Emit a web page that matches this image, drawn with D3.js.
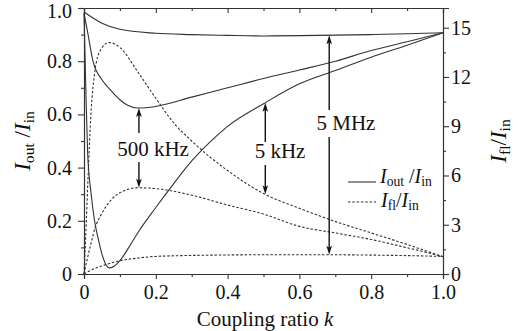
<!DOCTYPE html>
<html lang="en">
<head>
<meta charset="UTF-8">
<title>Coupling ratio chart</title>
<script src="https://d3js.org/d3.v7.min.js"></script>
<style>
  body { margin: 0; background: #fff; }
  svg text { font-family: "Liberation Serif", "DejaVu Serif", serif; fill: #111; }
  .axis path, .axis line { stroke: #333; stroke-width: 1.1; }
  .axis text { font-size: 20px; }
</style>
</head>
<body>
<div id="chart"></div>
<script>
// solid curves: I_out / I_in (left axis)
const k5MHzOut = [0, 0.05, 0.1, 0.2, 0.3, 0.4, 0.5, 0.6, 0.7, 0.8, 0.9, 1];
const out5MHz = [0.985, 0.943, 0.92, 0.905, 0.9, 0.897, 0.895, 0.896, 0.898, 0.9, 0.903, 0.907];

const k500kOut = [0, 0.01, 0.025, 0.05, 0.075, 0.1, 0.12, 0.15, 0.2, 0.3, 0.4, 0.5, 0.6, 0.7, 0.8, 0.9, 1];
const out500k = [0.98, 0.91, 0.8, 0.73, 0.69, 0.655, 0.635, 0.624, 0.63, 0.665, 0.7, 0.735, 0.767, 0.8, 0.84, 0.873, 0.907];

const k5kOut = [0, 0.005, 0.01, 0.02, 0.03, 0.04, 0.05, 0.06, 0.072, 0.085, 0.1, 0.125, 0.15, 0.2, 0.25, 0.3, 0.35, 0.4, 0.5, 0.6, 0.7, 0.8, 0.9, 1];
const out5k = [0.98, 0.7, 0.46, 0.3, 0.195, 0.13, 0.075, 0.038, 0.023, 0.03, 0.05, 0.1, 0.155, 0.25, 0.34, 0.425, 0.495, 0.555, 0.64, 0.715, 0.765, 0.815, 0.86, 0.907];

// dashed curves: I_fl / I_in (right axis)
const k5kFl = [0, 0.005, 0.01, 0.02, 0.03, 0.045, 0.07, 0.1, 0.15, 0.2, 0.25, 0.3, 0.4, 0.5, 0.6, 0.7, 0.8, 0.9, 1];
const fl5k = [0, 2.4, 5.2, 10.0, 12.3, 13.6, 14.1, 13.8, 12.3, 10.7, 9.2, 8.1, 6.3, 4.9, 4.0, 3.2, 2.5, 1.8, 1.05];

const k500kFl = [0, 0.01, 0.02, 0.03, 0.05, 0.075, 0.1, 0.15, 0.2, 0.3, 0.4, 0.5, 0.6, 0.7, 0.8, 0.9, 1];
const fl500k = [0, 1.0, 1.9, 2.75, 3.7, 4.5, 4.95, 5.25, 5.2, 4.8, 4.2, 3.65, 2.9, 2.5, 2.1, 1.6, 1.07];

const k5MHzFl = [0, 0.02, 0.05, 0.1, 0.15, 0.2, 0.3, 0.5, 0.7, 0.8, 0.9, 1];
const fl5MHz = [0, 0.24, 0.49, 0.81, 0.97, 1.07, 1.13, 1.17, 1.17, 1.15, 1.12, 1.07];

// ticks
const xTicks = [0, 0.2, 0.4, 0.6, 0.8, 1.0];
const xMinor = [0.1, 0.3, 0.5, 0.7, 0.9];
const yLTicks = [0, 0.2, 0.4, 0.6, 0.8, 1.0];
const yLMinor = [0.1, 0.3, 0.5, 0.7, 0.9];
const yRTicks = [0, 3, 6, 9, 12, 15];
const yRMinor = [1.5, 4.5, 7.5, 10.5, 13.5];

// annotations: label, k of arrow, text position
const notes = [
  { label: "500 kHz", k: 0.153, kOut: k500kOut, out: out500k, kFl: k500kFl, fl: fl500k, tx: 153, ty: 156, up: 133, down: 162 },
  { label: "5 kHz", k: 0.505, kOut: k5kOut, out: out5k, kFl: k5kFl, fl: fl5k, tx: 280, ty: 158, up: 142, down: 165 },
  { label: "5 MHz", k: 0.683, kOut: k5MHzOut, out: out5MHz, kFl: k5MHzFl, fl: fl5MHz, tx: 346, ty: 130, up: 110, down: 137 }
];

const width = 521, height = 331;
const mLeft = 84, mRight = 443, mTop = 8, mBottom = 274;

const svg = d3.select("#chart").append("svg")
  .attr("width", width)
  .attr("height", height);

const x = d3.scaleLinear().domain([0, 1]).range([mLeft, mRight]);
const yL = d3.scaleLinear().domain([0, 1]).range([mBottom, mTop]);
const yR = d3.scaleLinear().domain([0, 16.2]).range([mBottom, mTop]);

const fmt = d => d === 0 ? "0" : d3.format(".1f")(d);

// bottom axis
svg.append("g").attr("class", "axis").attr("transform", `translate(0,${mBottom})`)
  .call(d3.axisBottom(x).tickValues(xTicks).tickFormat(fmt).tickSize(5).tickPadding(6));
svg.append("g").attr("class", "axis").attr("transform", `translate(0,${mBottom})`)
  .call(d3.axisBottom(x).tickValues(xMinor).tickFormat("").tickSize(3));
// top axis (ticks inward)
svg.append("g").attr("class", "axis").attr("transform", `translate(0,${mTop})`)
  .call(d3.axisTop(x).tickValues(xTicks).tickFormat("").tickSize(-5));
svg.append("g").attr("class", "axis").attr("transform", `translate(0,${mTop})`)
  .call(d3.axisTop(x).tickValues(xMinor).tickFormat("").tickSize(-3));
// left axis
const leftAxis = svg.append("g").attr("class", "axis").attr("transform", `translate(${mLeft},0)`)
  .call(d3.axisLeft(yL).tickValues(yLTicks).tickFormat(fmt).tickSize(6).tickPadding(6));
svg.append("g").attr("class", "axis").attr("transform", `translate(${mLeft},0)`)
  .call(d3.axisLeft(yL).tickValues(yLMinor).tickFormat("").tickSize(3));
// right axis
svg.append("g").attr("class", "axis").attr("transform", `translate(${mRight},0)`)
  .call(d3.axisRight(yR).tickValues(yRTicks).tickFormat(d3.format("d")).tickSize(6).tickPadding(2));
svg.append("g").attr("class", "axis").attr("transform", `translate(${mRight},0)`)
  .call(d3.axisRight(yR).tickValues(yRMinor).tickFormat("").tickSize(3));
svg.selectAll(".axis path.domain").attr("stroke-width", 1.2);
svg.selectAll(".axis text").attr("font-family", null).attr("font-size", null);
// top label sits a little below its tick, as in the original
leftAxis.selectAll(".tick text").filter(d => d === 1).attr("y", 3);

// curves
const solid = (ks, vs) => d3.line().curve(d3.curveMonotoneX)
  .x((d, i) => x(ks[i])).y(d => yL(d))(vs);
const dashed = (ks, vs) => d3.line().curve(d3.curveMonotoneX)
  .x((d, i) => x(ks[i])).y(d => yR(d))(vs);

[[k5MHzOut, out5MHz], [k500kOut, out500k], [k5kOut, out5k]].forEach(([ks, vs]) => {
  svg.append("path").attr("d", solid(ks, vs))
    .attr("fill", "none").attr("stroke", "#333").attr("stroke-width", 1.1);
});
[[k5kFl, fl5k], [k500kFl, fl500k], [k5MHzFl, fl5MHz]].forEach(([ks, vs]) => {
  svg.append("path").attr("d", dashed(ks, vs))
    .attr("fill", "none").attr("stroke", "#333").attr("stroke-width", 1.1)
    .attr("stroke-dasharray", "2.5,1.8");
});

// arrows
const interp = (ks, vs, k) => {
  const i = Math.max(1, d3.bisectLeft(ks, k));
  const t = (k - ks[i - 1]) / (ks[i] - ks[i - 1]);
  return vs[i - 1] + t * (vs[i] - vs[i - 1]);
};
function arrow(xp, y0, y1) {
  const dir = y1 < y0 ? 1 : -1;
  svg.append("line").attr("x1", xp).attr("x2", xp).attr("y1", y0).attr("y2", y1 + dir * 6)
    .attr("stroke", "#111").attr("stroke-width", 1.4);
  svg.append("path")
    .attr("d", `M${xp},${y1} L${xp - 2.8},${y1 + dir * 9} L${xp},${y1 + dir * 7} L${xp + 2.8},${y1 + dir * 9} Z`)
    .attr("fill", "#111");
}
notes.forEach(n => {
  const xp = x(n.k);
  arrow(xp, n.up, yL(interp(n.kOut, n.out, n.k)));
  arrow(xp, n.down, yR(interp(n.kFl, n.fl, n.k)));
  svg.append("text").attr("x", n.tx).attr("y", n.ty)
    .attr("text-anchor", "middle").attr("font-size", 21).text(n.label);
});

// ratio label helper
function ratio(g, sub1, sub2, size, shift) {
  g.append("tspan").attr("font-style", "italic").text("I");
  g.append("tspan").attr("font-size", size * 0.68).attr("dy", shift).text(sub1);
  g.append("tspan").attr("dy", -shift).text(sub1 === "out" ? " /" : "/");
  g.append("tspan").attr("font-style", "italic").text("I");
  g.append("tspan").attr("font-size", size * 0.68).attr("dy", shift).text(sub2);
}

// legend
svg.append("line").attr("x1", 348).attr("x2", 376).attr("y1", 182).attr("y2", 182)
  .attr("stroke", "#333").attr("stroke-width", 1.1);
svg.append("line").attr("x1", 348).attr("x2", 376).attr("y1", 202).attr("y2", 202)
  .attr("stroke", "#333").attr("stroke-width", 1.1).attr("stroke-dasharray", "2.5,1.8");
ratio(svg.append("text").attr("x", 380).attr("y", 183).attr("font-size", 20), "out", "in", 20, 3);
ratio(svg.append("text").attr("x", 381).attr("y", 207).attr("font-size", 20), "fl", "in", 20, 3);

// axis titles
svg.append("text").attr("x", 265).attr("y", 326).attr("text-anchor", "middle")
  .attr("font-size", 21)
  .call(t => { t.append("tspan").text("Coupling ratio  "); t.append("tspan").attr("font-style", "italic").text("k"); });

ratio(svg.append("text").attr("transform", "translate(30,141) rotate(-90)")
  .attr("text-anchor", "middle").attr("font-size", 23), "out", "in", 23, 4);
ratio(svg.append("text").attr("transform", "translate(506,141) rotate(-90)")
  .attr("text-anchor", "middle").attr("font-size", 23), "fl", "in", 23, 4);
</script>
</body>
</html>
